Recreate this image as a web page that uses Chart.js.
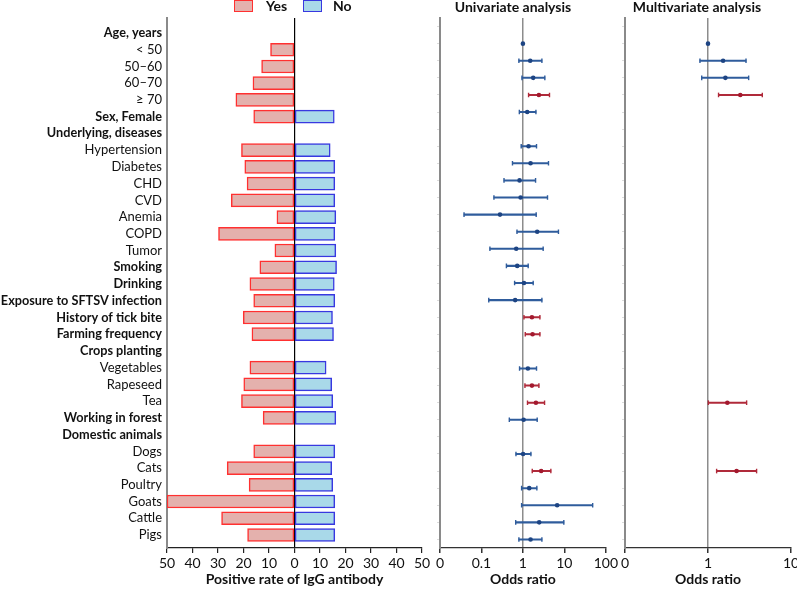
<!DOCTYPE html>
<html><head><meta charset="utf-8">
<script src="https://cdn.jsdelivr.net/npm/chart.js@4.4.1/dist/chart.umd.min.js"></script>
<style>
html,body{margin:0;padding:0;background:#fff;overflow:hidden}
#wrap{position:relative;width:797px;height:589px;overflow:hidden;font-family:Lato,"Noto Sans",sans-serif;color:#111}
canvas{position:absolute;top:0}
.t{position:absolute;font-weight:bold;font-size:14px;white-space:nowrap;transform:translateX(-50%);top:-2px;line-height:18px}
.lg{position:absolute;top:0;width:17px;height:10px;border-width:1.5px;border-style:solid}
.lt{position:absolute;top:-3px;font-weight:bold;font-size:14px;line-height:18px}
</style></head>
<body><div id="wrap">
<canvas id="c1" width="440" height="589" style="left:0"></canvas>
<canvas id="c2" width="190" height="589" style="left:430px"></canvas>
<canvas id="c3" width="190" height="589" style="left:615px"></canvas>
<div class="lg" style="left:234px;background:#e4b1ad;border-color:#ff3030"></div>
<div class="lt" style="left:266px">Yes</div>
<div class="lg" style="left:303px;background:#a9d9e9;border-color:#3838e0"></div>
<div class="lt" style="left:333px">No</div>
<div class="t" style="left:513px">Univariate analysis</div>
<div class="t" style="left:697px">Multivariate analysis</div>
</div>
<script>
const categories = ['Age, years','< 50','50–60','60–70','≥ 70','Sex, Female','Underlying, diseases','Hypertension','Diabetes','CHD','CVD','Anemia','COPD','Tumor','Smoking','Drinking','Exposure to SFTSV infection','History of tick bite','Farming frequency','Crops planting','Vegetables','Rapeseed','Tea','Working in forest','Domestic animals','Dogs','Cats','Poultry','Goats','Cattle','Pigs'];
const boldRows = [0,5,6,14,15,16,17,18,19,23,24];
const yesRate = [null,9.4,12.9,16.3,23.0,16.0,null,20.8,19.5,18.6,24.8,6.9,29.8,7.7,13.6,17.5,16.0,20.1,16.7,null,17.5,19.9,20.8,12.3,null,16.0,26.4,17.8,50,28.6,18.4];
const noRate  = [null,null,null,null,null,15.6,null,14.0,15.8,15.8,15.8,16.2,15.8,16.2,16.5,15.6,15.8,14.9,15.3,null,12.4,14.6,15.0,16.2,null,15.8,14.6,15.0,15.8,15.8,15.8];
const rateTicks = [-50,-40,-30,-20,-10,0,10,20,30,40,50];

const uniOR = [null,1,1.50,1.77,2.43,1.27,null,1.37,1.53,0.83,0.88,0.28,2.21,0.69,0.73,1.06,0.65,1.65,1.71,null,1.32,1.65,2.06,1.04,null,1.01,2.76,1.42,6.7,2.47,1.53];
const uniLo = [null,null,0.80,0.95,1.37,0.82,null,0.91,0.56,0.35,0.20,0.038,0.72,0.16,0.40,0.63,0.15,1.06,1.14,null,0.83,1.12,1.29,0.47,null,0.68,1.68,0.93,0.93,0.67,0.80];
const uniHi = [null,null,2.87,3.38,4.38,2.06,null,2.13,4.14,2.02,3.92,2.09,7.2,3.08,1.34,1.77,2.87,2.57,2.57,null,2.13,2.43,3.33,2.21,null,1.56,4.72,2.17,48.2,9.7,2.87];
const uniSig = [0,0,0,0,1,0,0,0,0,0,0,0,0,0,0,0,0,1,1,0,0,1,1,0,0,0,1,0,0,0,0];
const uniTicks = [0.01,0.1,1,10,100];

const multiOR = [null,1,1.52,1.62,2.45,null,null,null,null,null,null,null,null,null,null,null,null,null,null,null,null,null,1.71,null,null,null,2.21,null,null,null,null];
const multiLo = [null,null,0.80,0.84,1.34,null,null,null,null,null,null,null,null,null,null,null,null,null,null,null,null,null,1.01,null,null,null,1.27,null,null,null,null];
const multiHi = [null,null,2.87,3.09,4.51,null,null,null,null,null,null,null,null,null,null,null,null,null,null,null,null,null,2.92,null,null,null,3.85,null,null,null,null];
const multiSig = [0,0,0,0,1,0,0,0,0,0,0,0,0,0,0,0,0,0,0,0,0,0,1,0,0,0,1,0,0,0,0];
const multiTicks = [0.1,1,10];

const rows = categories.map((_, i) => i);
const TXT = '#111';
const BLUE = '#1d4483', BLUE_CI = '#2f5c9c', RED = '#a3192e', RED_CI = '#b02a3a';
Chart.defaults.font.family = 'Lato, "Noto Sans", sans-serif';

new Chart(document.getElementById('c1'), {
  type: 'bar',
  data: { datasets: [
    { label: 'Yes', data: rows.filter(i => yesRate[i] != null).map(i => ({ y: i, x: -yesRate[i] })),
      backgroundColor: '#e4b1ad', borderColor: '#ff3030', borderWidth: 1.5, borderSkipped: false, barThickness: 13, grouped: false },
    { label: 'No', data: rows.filter(i => noRate[i] != null).map(i => ({ y: i, x: noRate[i] })),
      backgroundColor: '#a9d9e9', borderColor: '#3838e0', borderWidth: 1.5, borderSkipped: false, barThickness: 13, grouped: false }
  ]},
  options: {
    indexAxis: 'y', responsive: false, animation: false,
    plugins: { legend: { display: false }, tooltip: { enabled: false } },
    layout: { padding: { top: 18, right: 18, left: 0, bottom: 0 } },
    scales: {
      x: { type: 'linear', min: -50, max: 50, z: 1, offset: false,
        afterBuildTicks: s => { s.ticks = rateTicks.map(v => ({ value: v })); },
        ticks: { callback: v => Math.abs(v), font: { size: 14 }, color: TXT, padding: 2, maxRotation: 0, autoSkip: false },
        grid: { offset: false, color: c => (c.tick && c.tick.value === 0) ? '#000' : 'rgba(0,0,0,0)', tickColor: '#222', tickLength: 5, lineWidth: 1.2 },
        border: { color: '#222', width: 1.2 },
        title: { display: true, text: 'Positive rate of IgG antibody', font: { size: 14, weight: 'bold' }, color: TXT, padding: { top: 4, bottom: 1 } },
        afterFit: s => { s.height = 41; } },
      y: { type: 'linear', reverse: true, min: -0.896, max: 30.777, offset: false,
        afterBuildTicks: s => { s.ticks = rows.map(v => ({ value: v })); },
        ticks: { callback: v => categories[v], autoSkip: false, color: TXT, padding: 5,
          font: c => (boldRows.includes(c.index) ? { size: 12.7, weight: 'bold' } : { size: 13, weight: 'normal' }) },
        grid: { display: false, drawTicks: false, offset: false },
        border: { color: '#8a8a8a', width: 2 },
        afterFit: s => { s.width = 167; } }
    }
  }
});

function forest(id, orA, loA, hiA, sigA, tickVals) {
  const ciRows = rows.filter(i => loA[i] != null);
  const dotRows = rows.filter(i => orA[i] != null);
  const caps = [];
  ciRows.forEach(i => { caps.push({ x: loA[i], y: i, s: sigA[i] }); caps.push({ x: hiA[i], y: i, s: sigA[i] }); });
  const xmin = tickVals[0], xmax = tickVals[tickVals.length - 1];
  return new Chart(document.getElementById(id), {
    type: 'bar',
    data: { datasets: [
      { type: 'bar', indexAxis: 'y', data: ciRows.map(i => ({ y: i, x: [loA[i], hiA[i]] })),
        backgroundColor: ciRows.map(i => sigA[i] ? RED_CI : BLUE_CI), borderWidth: 0, barThickness: 1.4, grouped: false, order: 3 },
      { type: 'scatter', data: caps, pointStyle: 'line', rotation: 90, pointRadius: 2.3, borderWidth: 1.4,
        borderColor: caps.map(p => p.s ? RED_CI : BLUE_CI), order: 2 },
      { type: 'scatter', data: dotRows.map(i => ({ x: orA[i], y: i })), pointRadius: 2.3, borderWidth: 0,
        backgroundColor: dotRows.map(i => sigA[i] ? RED : BLUE), order: 1 }
    ]},
    options: {
      responsive: false, animation: false,
      plugins: { legend: { display: false }, tooltip: { enabled: false } },
      layout: { padding: { top: 18, right: 14, left: 6, bottom: 0 } },
      scales: {
        x: { type: 'logarithmic', min: xmin, max: xmax, offset: false,
          afterBuildTicks: s => { s.ticks = tickVals.map(v => ({ value: v })); },
          ticks: { callback: v => v === xmin ? '0' : String(v), font: { size: 14 }, color: TXT, padding: 2, maxRotation: 0, autoSkip: false },
          grid: { offset: false, color: c => (c.tick && c.tick.value === 1) ? '#8c8c8c' : 'rgba(0,0,0,0)', lineWidth: 1.5, tickColor: '#333', tickLength: 5 },
          border: { color: '#333', width: 1.2 },
          title: { display: true, text: 'Odds ratio', font: { size: 14, weight: 'bold' }, color: TXT, padding: { top: 4, bottom: 1 } },
          afterFit: s => { s.height = 41; } },
        y: { type: 'linear', reverse: true, min: -0.5, max: 30.5, offset: false,
          afterBuildTicks: s => { s.ticks = rows.map(v => ({ value: v })); },
          ticks: { display: false },
          grid: { offset: false, drawOnChartArea: false, drawTicks: true, tickLength: 3, color: '#dcdcdc' },
          border: { color: '#8a8a8a', width: 2 },
          afterFit: s => { s.width = 4; } }
      }
    }
  });
}
forest('c2', uniOR, uniLo, uniHi, uniSig, uniTicks);
forest('c3', multiOR, multiLo, multiHi, multiSig, multiTicks);
</script>
</body></html>
